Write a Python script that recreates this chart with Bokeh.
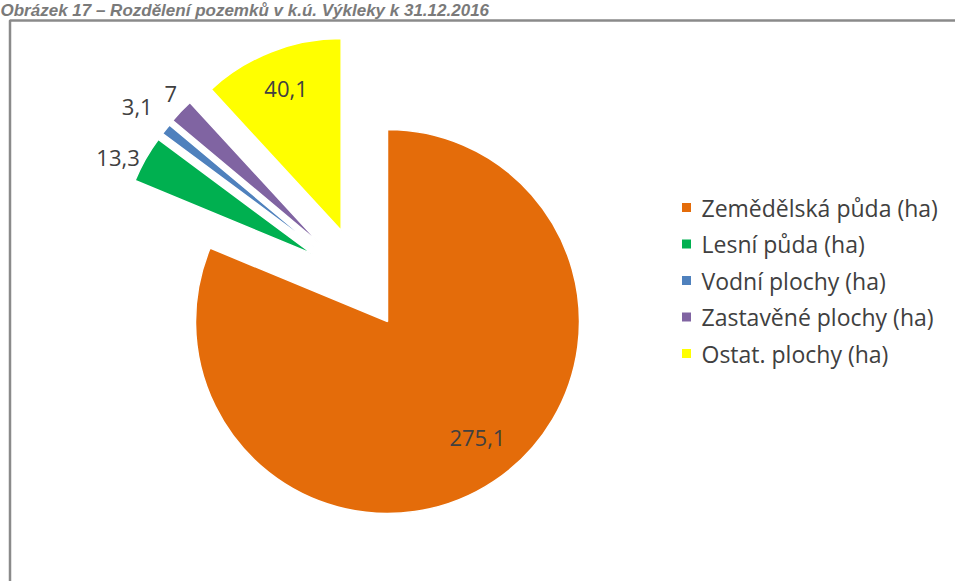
import math
from bokeh.plotting import figure
from bokeh.models import Range1d, ColumnDataSource
from bokeh.core.properties import value
from bokeh.embed import file_html
from bokeh.resources import INLINE

# ---- data ----
title_text = "Obrázek 17 – Rozdělení pozemků v k.ú. Výkleky k 31.12.2016"
categories = ["Zemědělská půda (ha)", "Lesní půda (ha)", "Vodní plochy (ha)",
              "Zastavěné plochy (ha)", "Ostat. plochy (ha)"]
values_ha = [275.1, 13.3, 3.1, 7.0, 40.1]
value_labels = ["275,1", "13,3", "3,1", "7", "40,1"]
colors = ["#E46C0A", "#00B050", "#4F81BD", "#8064A2", "#FFFF00"]

# ---- layout / style ----
W, H = 955, 581


def sy(y):
    # screen y (from top of window) -> data y (upwards)
    return H - y


CX, CY = 387, sy(321)
R = 192
explode_dist = [0, 101, 102, 103, 102]
explode_dir = [0, 312, 316, 319, 333]      # degrees, clockwise from 12 o'clock
label_r = [0.765, 1.13, 1.19, 1.10, 0.79]  # fraction of radius from slice tip
label_dtheta = [-4.0, -3.2, 0.0, 1.4, 0.0]

total = sum(values_ha)
theta0, theta1 = [], []
acc = 0.0
for v in values_ha:
    theta0.append(acc)
    acc += v / total * 360.0
    theta1.append(acc)

start_a, end_a, cxs, cys, lxs, lys = [], [], [], [], [], []
for i in range(len(values_ha)):
    start_a.append(math.radians(90 - theta1[i]))
    end_a.append(math.radians(90 - theta0[i]))
    d = math.radians(explode_dir[i])
    cx = CX + explode_dist[i] * math.sin(d)
    cy = CY + explode_dist[i] * math.cos(d)
    cxs.append(cx)
    cys.append(cy)
    mid = math.radians((theta0[i] + theta1[i]) / 2 + label_dtheta[i])
    lxs.append(cx + label_r[i] * R * math.sin(mid))
    lys.append(cy + label_r[i] * R * math.cos(mid))

src = ColumnDataSource(dict(x=cxs, y=cys, start=start_a, end=end_a, color=colors,
                            lx=lxs, ly=lys, lab=value_labels, cat=categories))

p = figure(width=W, height=H, output_backend="svg", toolbar_location=None,
           x_range=Range1d(0, W), y_range=Range1d(0, H), min_border=0)
p.axis.visible = False
p.grid.visible = False
p.outline_line_color = None
p.background_fill_color = "white"
p.border_fill_color = "white"

# chart border (runs off right/bottom like the reference)
p.quad(left=[9.5], right=[W + 40], top=[sy(20)], bottom=[-40],
       fill_color=None, line_color="#8a8a8a", line_width=2.5)

# title
p.text(x=[0], y=[sy(0)], text=[title_text], text_font=value("Liberation Sans"),
       text_font_style="bold italic", text_font_size="17px", text_color="#7a7a7a",
       text_baseline="top", text_align="left")

# pie slices
p.wedge(x="x", y="y", radius=R, start_angle="start", end_angle="end",
        fill_color="color", line_color="white", line_width=1.5, source=src)

# data labels
p.text(x="lx", y="ly", text="lab", source=src, text_font=value("Open Sans"),
       text_font_size="22px", text_color="#404040",
       text_align="center", text_baseline="middle")

# legend (manual)
LEG_X = 686
LEG_Y0 = 207
LEG_DY = 36.5
leg_x = [LEG_X] * len(categories)
leg_y = [sy(LEG_Y0 + i * LEG_DY) for i in range(len(categories))]
leg_src = ColumnDataSource(dict(x=leg_x, y=leg_y, tx=[LEG_X + 15] * len(categories),
                                color=colors, cat=categories))
p.scatter(x="x", y="y", marker="square", size=9, fill_color="color",
          line_color=None, source=leg_src)
p.text(x="tx", y="y", text="cat", source=leg_src, text_font=value("Open Sans"),
       text_font_size="23px", text_color="#404040",
       text_align="left", text_baseline="middle")

open("out.html", "w").write(file_html(p, INLINE))
